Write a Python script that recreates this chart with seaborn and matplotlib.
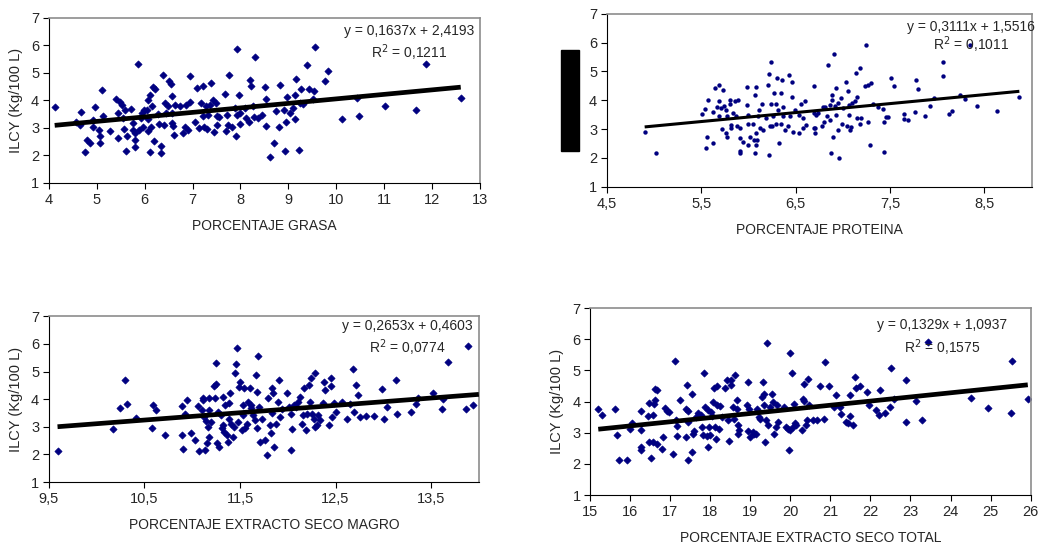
import matplotlib
matplotlib.use("Agg")
import matplotlib.pyplot as plt
from matplotlib.patches import Rectangle
import seaborn as sns

sns.set_style("white")
plt.rcParams['font.family'] = ['Liberation Sans', 'DejaVu Sans']

# ILCY vs porcentaje grasa
grasa_x = [4.12, 4.56, 4.66, 4.65, 4.76, 4.8, 4.86, 4.92, 4.92, 4.97,
           5.05, 5.06, 5.06, 5.11, 5.12, 5.27, 5.4, 5.45, 5.45, 5.48,
           5.52, 5.55, 5.56, 5.58, 5.6, 5.62, 5.72, 5.75, 5.76, 5.79,
           5.8, 5.8, 5.86, 5.88, 5.93, 5.95, 5.97, 5.98, 6.04, 6.07,
           6.07, 6.07, 6.12, 6.12, 6.14, 6.16, 6.18, 6.2, 6.21, 6.28,
           6.3, 6.35, 6.35, 6.39, 6.41, 6.43, 6.45, 6.49, 6.51, 6.54,
           6.56, 6.56, 6.58, 6.59, 6.61, 6.63, 6.73, 6.8, 6.84, 6.87,
           6.9, 6.94, 6.94, 7.05, 7.09, 7.14, 7.18, 7.21, 7.22, 7.24,
           7.28, 7.3, 7.32, 7.36, 7.39, 7.43, 7.44, 7.48, 7.5, 7.52,
           7.55, 7.68, 7.69, 7.71, 7.74, 7.76, 7.83, 7.88, 7.9, 7.92,
           7.93, 7.97, 7.98, 8.0, 8.09, 8.12, 8.18, 8.2, 8.23, 8.26,
           8.28, 8.31, 8.37, 8.44, 8.51, 8.53, 8.54, 8.61, 8.71, 8.75,
           8.81, 8.82, 8.9, 8.94, 8.96, 8.97, 9.03, 9.1, 9.13, 9.13,
           9.17, 9.22, 9.24, 9.27, 9.31, 9.39, 9.43, 9.51, 9.53, 9.55,
           9.76, 9.83, 10.13, 10.44, 10.47, 11.01, 11.67, 11.88, 12.6]
grasa_y = [3.76, 3.2, 3.58, 3.09, 2.14, 2.57, 2.47, 3.05, 3.27, 3.76,
           2.93, 2.7, 2.47, 4.39, 3.42, 2.87, 4.05, 3.54, 2.63, 3.96,
           3.84, 3.36, 2.96, 3.66, 2.17, 2.72, 3.68, 2.93, 3.17, 2.57,
           2.3, 2.81, 5.34, 2.93, 3.36, 3.54, 3.05, 3.66, 3.66, 4.03,
           2.87, 3.31, 4.21, 2.14, 3.05, 3.78, 4.49, 2.51, 4.41, 3.52,
           3.15, 2.36, 2.08, 4.94, 3.11, 3.9, 3.54, 3.78, 4.72, 4.6,
           4.15, 3.54, 3.17, 3.07, 2.75, 3.84, 3.78, 2.81, 3.05, 3.84,
           2.93, 4.9, 3.96, 3.23, 4.45, 2.99, 3.9, 4.54, 3.42, 3.05,
           3.78, 2.96, 3.48, 3.84, 4.63, 4.03, 2.84, 3.9, 3.42, 3.11,
           3.39, 4.24, 2.87, 3.48, 3.11, 4.94, 3.05, 3.72, 2.69, 3.48,
           5.88, 4.21, 3.15, 3.54, 3.72, 3.36, 3.23, 4.75, 4.54, 3.78,
           3.39, 5.58, 3.36, 3.48, 4.49, 4.05, 3.07, 1.96, 2.45, 3.6,
           3.05, 4.57, 3.66, 2.17, 3.23, 4.12, 3.54, 3.72, 4.21, 3.33,
           4.79, 2.2, 3.9, 4.41, 3.87, 5.27, 4.43, 4.05, 4.33, 5.93,
           4.69, 5.08, 3.33, 4.09, 3.42, 3.78, 3.66, 5.33, 4.08]

# ILCY vs porcentaje proteina
prot_x = [4.9, 5.02, 5.51, 5.54, 5.55, 5.56, 5.57, 5.62, 5.62, 5.65,
          5.67, 5.69, 5.69, 5.69, 5.71, 5.72, 5.73, 5.74, 5.76, 5.76,
          5.77, 5.77, 5.8, 5.8, 5.81, 5.82, 5.84, 5.86, 5.87, 5.88,
          5.89, 5.91, 5.91, 5.91, 5.91, 5.94, 5.98, 5.98, 5.99, 5.99,
          6.0, 6.02, 6.05, 6.06, 6.07, 6.07, 6.08, 6.08, 6.08, 6.09,
          6.1, 6.11, 6.12, 6.14, 6.15, 6.19, 6.21, 6.22, 6.22, 6.23,
          6.24, 6.24, 6.25, 6.26, 6.27, 6.29, 6.29, 6.3, 6.31, 6.32,
          6.34, 6.34, 6.36, 6.37, 6.37, 6.39, 6.42, 6.43, 6.44, 6.46,
          6.46, 6.47, 6.49, 6.53, 6.54, 6.56, 6.58, 6.58, 6.6, 6.61,
          6.69, 6.69, 6.69, 6.7, 6.71, 6.72, 6.74, 6.78, 6.79, 6.8,
          6.81, 6.83, 6.84, 6.86, 6.86, 6.87, 6.88, 6.89, 6.9, 6.91,
          6.92, 6.93, 6.93, 6.95, 6.95, 6.96, 6.98, 6.99, 7.0, 7.03,
          7.04, 7.05, 7.06, 7.07, 7.08, 7.09, 7.1, 7.13, 7.14, 7.15,
          7.15, 7.18, 7.18, 7.19, 7.23, 7.25, 7.27, 7.27, 7.29, 7.3,
          7.32, 7.37, 7.43, 7.44, 7.44, 7.46, 7.48, 7.51, 7.54, 7.65,
          7.65, 7.69, 7.76, 7.77, 7.8, 7.87, 7.92, 7.97, 8.06, 8.06,
          8.12, 8.16, 8.24, 8.29, 8.35, 8.42, 8.63, 8.87]
prot_y = [2.89, 2.16, 3.52, 3.69, 2.33, 2.74, 4.02, 3.58, 2.51, 4.42,
          3.76, 4.53, 3.97, 3.46, 3.73, 3.0, 4.37, 3.79, 3.67, 2.86,
          2.74, 3.44, 4.02, 3.88, 3.15, 3.03, 3.55, 3.99, 3.44, 3.11,
          4.02, 3.03, 2.68, 2.25, 2.16, 2.57, 4.46, 3.84, 3.49, 3.18,
          2.45, 2.74, 3.18, 2.62, 4.19, 2.16, 2.88, 2.45, 4.46, 2.62,
          3.44, 3.67, 3.03, 3.88, 2.97, 3.38, 4.54, 4.92, 2.1, 3.11,
          5.32, 3.88, 3.11, 3.46, 4.25, 3.88, 3.18, 4.76, 3.67, 2.51,
          3.18, 4.25, 4.71, 3.76, 3.46, 2.97, 3.11, 4.87, 3.46, 4.13,
          4.64, 2.91, 3.67, 2.86, 3.49, 3.88, 3.38, 3.03, 3.97, 3.15,
          4.48, 3.03, 3.55, 2.86, 3.03, 3.49, 3.55, 3.11, 3.78, 3.26,
          3.78, 3.44, 5.23, 3.32, 3.84, 2.16, 4.19, 4.02, 2.74, 5.62,
          3.81, 4.42, 3.49, 3.9, 2.97, 1.99, 4.07, 3.18, 3.73, 4.65,
          3.11, 4.31, 3.84, 3.49, 2.97, 3.09, 3.9, 3.97, 4.94, 4.13,
          3.38, 5.11, 3.18, 3.38, 4.48, 5.9, 4.54, 3.23, 2.45, 4.6,
          3.88, 3.78, 3.69, 2.22, 3.23, 3.41, 3.41, 4.77, 4.48, 3.53,
          3.34, 3.3, 3.58, 4.71, 4.39, 3.46, 3.81, 4.07, 5.32, 4.83,
          3.53, 3.64, 4.19, 4.04, 5.93, 3.81, 3.63, 4.13]

# ILCY vs porcentaje extracto seco magro
esm_x = [9.59, 10.17, 10.24, 10.3, 10.32, 10.41, 10.59, 10.58, 10.62, 10.72,
         10.89, 10.89, 10.9, 10.92, 10.94, 10.99, 11.03, 11.06, 11.07, 11.1,
         11.11, 11.11, 11.12, 11.13, 11.14, 11.15, 11.17, 11.18, 11.18, 11.18,
         11.2, 11.23, 11.24, 11.25, 11.25, 11.26, 11.27, 11.28, 11.3, 11.31,
         11.32, 11.32, 11.33, 11.34, 11.36, 11.37, 11.38, 11.39, 11.4, 11.41,
         11.43, 11.44, 11.45, 11.46, 11.47, 11.48, 11.49, 11.5, 11.52, 11.53,
         11.53, 11.54, 11.55, 11.57, 11.58, 11.6, 11.61, 11.62, 11.64, 11.66,
         11.67, 11.68, 11.68, 11.69, 11.7, 11.71, 11.73, 11.76, 11.78, 11.79,
         11.81, 11.82, 11.83, 11.84, 11.85, 11.86, 11.88, 11.9, 11.91, 11.92,
         11.94, 11.99, 12.01, 12.03, 12.03, 12.04, 12.06, 12.09, 12.11, 12.13,
         12.15, 12.16, 12.17, 12.19, 12.2, 12.22, 12.23, 12.24, 12.25, 12.27,
         12.28, 12.29, 12.31, 12.32, 12.34, 12.37, 12.38, 12.39, 12.43, 12.45,
         12.45, 12.46, 12.48, 12.5, 12.57, 12.62, 12.65, 12.68, 12.69, 12.71,
         12.74, 12.76, 12.82, 12.9, 12.99, 13.01, 13.04, 13.13, 13.14, 13.29,
         13.34, 13.36, 13.52, 13.61, 13.62, 13.68, 13.87, 13.89, 13.94]
esm_y = [2.14, 2.91, 3.69, 4.69, 3.81, 3.33, 3.79, 2.94, 3.6, 2.7,
         3.75, 2.7, 2.2, 3.48, 3.97, 2.76, 2.52, 3.75, 2.13, 3.6,
         4.03, 3.97, 3.36, 2.16, 3.22, 2.4, 3.0, 3.6, 2.64, 4.03,
         3.18, 4.47, 4.03, 5.31, 4.54, 2.4, 3.55, 2.28, 3.43, 2.94,
         3.06, 4.09, 2.82, 3.79, 2.7, 2.46, 3.87, 3.3, 4.21, 3.12,
         2.64, 3.0, 4.93, 5.29, 5.86, 3.18, 4.45, 4.63, 2.88, 3.43,
         3.79, 4.39, 2.94, 3.12, 3.91, 4.42, 3.79, 3.67, 3.43, 3.25,
         4.87, 4.27, 2.94, 5.55, 3.72, 2.46, 3.3, 2.52, 1.98, 4.03,
         3.06, 2.76, 3.51, 4.42, 4.23, 2.26, 3.12, 3.91, 4.69, 3.36,
         3.63, 4.21, 3.72, 3.48, 2.16, 2.91, 3.79, 3.7, 3.91, 4.09,
         3.12, 3.43, 4.42, 2.88, 3.48, 4.51, 3.91, 4.75, 3.48, 3.3,
         4.93, 3.0, 3.06, 3.43, 3.25, 3.87, 4.63, 4.33, 3.06, 4.78,
         4.47, 3.36, 3.87, 3.55, 3.91, 3.27, 3.82, 5.08, 3.55, 4.51,
         4.15, 3.34, 3.4, 3.4, 4.36, 3.3, 3.7, 4.69, 3.45, 3.55,
         3.81, 4.06, 4.21, 3.63, 4.0, 5.33, 3.66, 5.91, 3.79]

# ILCY vs porcentaje extracto seco total
est_x = [15.2, 15.3, 15.61, 15.66, 15.72, 15.91, 15.99, 16.05, 16.26, 16.26,
         16.26, 16.26, 16.45, 16.47, 16.48, 16.53, 16.57, 16.57, 16.59, 16.61,
         16.62, 16.67, 16.67, 16.82, 16.8, 16.86, 16.91, 16.97, 17.07, 17.11,
         17.13, 17.16, 17.16, 17.23, 17.38, 17.4, 17.42, 17.44, 17.45, 17.45,
         17.53, 17.53, 17.56, 17.59, 17.63, 17.69, 17.76, 17.8, 17.82, 17.84,
         17.86, 17.91, 17.94, 17.95, 17.96, 17.98, 18.01, 18.05, 18.06, 18.09,
         18.11, 18.13, 18.16, 18.17, 18.21, 18.24, 18.3, 18.36, 18.42, 18.45,
         18.46, 18.51, 18.52, 18.56, 18.59, 18.61, 18.66, 18.67, 18.69, 18.7,
         18.71, 18.92, 18.94, 18.95, 18.96, 19.0, 19.06, 19.1, 19.15, 19.17,
         19.21, 19.25, 19.3, 19.32, 19.34, 19.35, 19.36, 19.4, 19.42, 19.44,
         19.49, 19.55, 19.57, 19.6, 19.63, 19.67, 19.69, 19.84, 19.88, 19.94,
         19.96, 19.99, 20.0, 20.05, 20.06, 20.09, 20.11, 20.13, 20.3, 20.32,
         20.34, 20.35, 20.38, 20.42, 20.44, 20.46, 20.57, 20.67, 20.73, 20.84,
         20.86, 20.96, 21.13, 21.1, 21.25, 21.27, 21.38, 21.44, 21.48, 21.5,
         21.56, 21.61, 21.65, 21.74, 21.92, 21.96, 22.15, 22.21, 22.24, 22.36,
         22.49, 22.52, 22.59, 22.89, 22.89, 23.13, 23.29, 23.43, 24.5, 24.94,
         25.52, 25.54, 25.93]
est_y = [3.77, 3.58, 3.76, 2.94, 2.14, 2.14, 3.11, 3.32, 3.69, 3.08,
         2.55, 2.46, 3.53, 2.71, 3.97, 2.2, 3.56, 2.71, 3.91, 4.06,
         4.39, 4.36, 2.65, 2.87, 2.49, 3.81, 3.7, 3.67, 2.31, 5.32,
         3.4, 3.21, 2.9, 4.04, 3.77, 2.87, 4.52, 3.69, 3.35, 2.12,
         4.23, 2.39, 2.97, 3.06, 3.51, 3.64, 3.56, 3.19, 2.92, 4.92,
         3.83, 2.9, 3.72, 2.55, 3.19, 2.92, 3.67, 3.53, 3.99, 4.45,
         3.19, 2.81, 4.49, 3.88, 3.13, 3.85, 3.51, 4.45, 4.7, 3.42,
         2.74, 4.52, 4.68, 3.83, 3.45, 4.87, 3.77, 4.04, 3.24, 2.97,
         3.08, 3.88, 4.63, 3.06, 3.77, 2.85, 3.03, 2.97, 2.95, 3.77,
         3.51, 3.45, 4.15, 4.63, 3.88, 4.26, 2.71, 3.4, 5.88, 3.24,
         3.83, 4.26, 3.99, 2.95, 3.19, 3.88, 3.35, 3.83, 3.19, 3.11,
         2.44, 3.08, 5.57, 4.92, 3.19, 3.93, 3.32, 3.24, 3.08, 4.09,
         4.02, 4.58, 3.24, 3.4, 4.74, 3.88, 3.4, 3.42, 4.49, 3.45,
         5.27, 4.49, 4.2, 3.83, 3.83, 3.59, 3.35, 3.32, 4.2, 3.53,
         3.26, 4.79, 4.45, 4.49, 4.31, 3.88, 3.72, 3.56, 4.36, 3.64,
         3.83, 5.09, 4.09, 4.7, 3.35, 4.01, 3.42, 5.91, 4.13, 3.8,
         3.64, 5.32, 4.09]

# trend lines as printed on the chart
slopes = [0.1637, 0.3111, 0.2653, 0.1329]
intercepts = [2.4193, 1.5516, 0.4603, 1.0937]
eq_labels = ["y = 0,1637x + 2,4193", "y = 0,3111x + 1,5516",
             "y = 0,2653x + 0,4603", "y = 0,1329x + 1,0937"]
r2_labels = ["R$^2$ = 0,1211", "R$^2$ = 0,1011", "R$^2$ = 0,0774", "R$^2$ = 0,1575"]

xlabels = ["PORCENTAJE GRASA", "PORCENTAJE PROTEINA",
           "PORCENTAJE EXTRACTO SECO MAGRO", "PORCENTAJE EXTRACTO SECO TOTAL"]
xticks = [[4, 5, 6, 7, 8, 9, 10, 11, 12, 13],
          [4.5, 5.5, 6.5, 7.5, 8.5],
          [9.5, 10.5, 11.5, 12.5, 13.5],
          [15, 16, 17, 18, 19, 20, 21, 22, 23, 24, 25, 26]]
xtick_labels = [["4", "5", "6", "7", "8", "9", "10", "11", "12", "13"],
                ["4,5", "5,5", "6,5", "7,5", "8,5"],
                ["9,5", "10,5", "11,5", "12,5", "13,5"],
                ["15", "16", "17", "18", "19", "20", "21", "22", "23", "24", "25", "26"]]
xlims = [(4, 13), (4.5, 9.0), (9.5, 14.0), (15, 26)]
yticks = [1, 2, 3, 4, 5, 6, 7]
ylabel = "ILCY (Kg/100 L)"

xs = [grasa_x, prot_x, esm_x, est_x]
ys = [grasa_y, prot_y, esm_y, est_y]

fig = plt.figure(figsize=(10.41, 5.51), dpi=100)
rects = [[0.047, 0.668, 0.414, 0.2995],
         [0.583, 0.661, 0.408, 0.314],
         [0.047, 0.125, 0.413, 0.301],
         [0.567, 0.1016, 0.423, 0.339]]
eq_pos = [(0.836, 0.921, 0.788), (0.857, 0.925, 0.821),
          (0.833, 0.94, 0.813), (0.80, 0.909, 0.79)]
navy = "#000080"

for i in range(4):
    ax = fig.add_axes(rects[i])
    if i == 1:
        sns.scatterplot(x=xs[i], y=ys[i], ax=ax, marker="o", s=10,
                        color=navy, linewidth=0)
        lw = 2.2
    else:
        sns.scatterplot(x=xs[i], y=ys[i], ax=ax, marker="D", s=14,
                        color=navy, edgecolor=navy, linewidth=0.4)
        lw = 3.4
    x0 = min(xs[i])
    x1 = max(xs[i]) if i != 2 else xlims[i][1]
    ax.plot([x0, x1], [slopes[i] * x0 + intercepts[i], slopes[i] * x1 + intercepts[i]],
            color="black", lw=lw, solid_capstyle="butt", zorder=3)

    ax.set_xlim(*xlims[i])
    ax.set_ylim(1, 7)
    ax.set_xticks(xticks[i])
    ax.set_xticklabels(xtick_labels[i])
    ax.set_yticks(yticks)
    ax.tick_params(axis="both", direction="out", length=4, width=0.8,
                   color="black", labelsize=10.5, pad=3, bottom=True, left=True)
    for side in ["top", "right"]:
        ax.spines[side].set_color("#8c8c8c")
        ax.spines[side].set_linewidth(1.2)
    for side in ["left", "bottom"]:
        ax.spines[side].set_color("black")
        ax.spines[side].set_linewidth(0.8)
    ax.set_xlabel(xlabels[i], fontsize=10, labelpad=9)
    if i != 1:
        ax.set_ylabel(ylabel, fontsize=10.5, labelpad=6)
    ex, ey, ry = eq_pos[i]
    ax.text(ex, ey, eq_labels[i], transform=ax.transAxes, ha="center", va="center", fontsize=10)
    ax.text(ex, ry, r2_labels[i], transform=ax.transAxes, ha="center", va="center", fontsize=10)

# black bar covering the y label of the protein panel
fig.patches.append(Rectangle((561 / 1041, 1 - 151 / 551), 18 / 1041, 101 / 551,
                             transform=fig.transFigure, color="black", zorder=5))

fig.savefig("out.png", dpi=100)
